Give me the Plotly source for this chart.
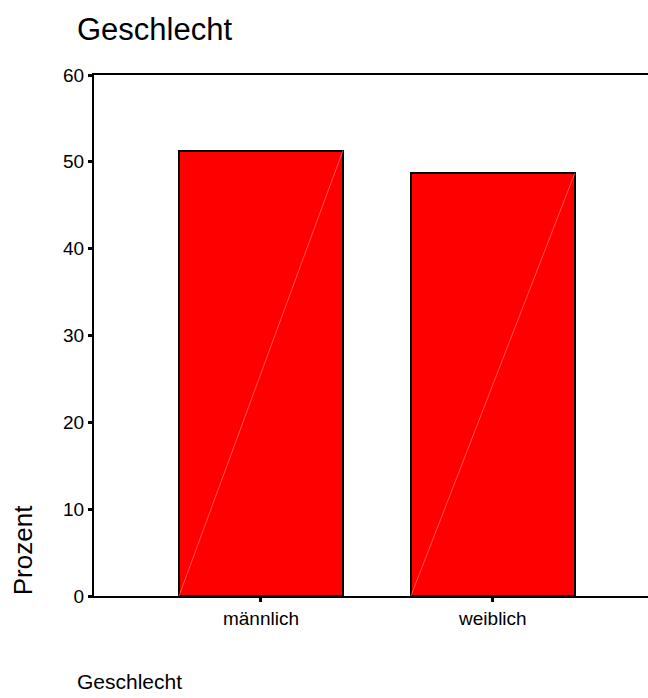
import plotly.graph_objects as go

# Häufigkeiten der Variable "Geschlecht" in Prozent
categories = ["männlich", "weiblich"]
percent = [51.3, 48.7]

y_ticks = [0, 10, 20, 30, 40, 50, 60]

BAR_WIDTH = 0.707
FONT = "Liberation Sans, Arial, sans-serif"

positions = list(range(len(categories)))

fig = go.Figure()
fig.add_trace(go.Bar(
    x=positions,
    y=percent,
    width=BAR_WIDTH,
    marker=dict(color="#ff0000", line=dict(color="#000000", width=2)),
    hoverinfo="skip",
))

# feine Diagonale innerhalb jedes Balkens
for pos, val in zip(positions, percent):
    fig.add_trace(go.Scatter(
        x=[pos - BAR_WIDTH / 2, pos + BAR_WIDTH / 2],
        y=[0, val],
        mode="lines",
        line=dict(color="rgba(255,140,140,0.6)", width=1),
        hoverinfo="skip",
        showlegend=False,
    ))

fig.update_layout(
    width=648,
    height=698,
    margin=dict(l=94, r=0, t=75, b=102),
    paper_bgcolor="white",
    plot_bgcolor="white",
    showlegend=False,
    bargap=0,
    font=dict(family=FONT, color="#000000"),
    xaxis=dict(
        range=[-0.72, 1.669],
        tickvals=positions,
        ticktext=categories,
        showline=True,
        linecolor="#000000",
        linewidth=2,
        mirror=True,
        ticks="outside",
        ticklen=4,
        tickwidth=3,
        tickcolor="#000000",
        showgrid=False,
        zeroline=False,
        tickfont=dict(size=19, family=FONT, color="#000000"),
    ),
    yaxis=dict(
        range=[0, 60],
        tickvals=y_ticks,
        showline=True,
        linecolor="#000000",
        linewidth=2,
        ticks="outside",
        ticklen=4,
        tickwidth=3,
        tickcolor="#000000",
        showgrid=False,
        zeroline=False,
        tickfont=dict(size=19, family=FONT, color="#000000"),
    ),
    annotations=[
        dict(text="Geschlecht", xref="paper", yref="paper",
             x=-0.035, y=1.088, xanchor="left", yanchor="middle",
             showarrow=False, font=dict(size=31, family=FONT, color="#000000")),
        dict(text="Geschlecht", xref="paper", yref="paper",
             x=-0.035, y=-0.165, xanchor="left", yanchor="middle",
             showarrow=False, font=dict(size=21, family=FONT, color="#000000")),
        dict(text="Prozent", xref="paper", yref="paper",
             x=-0.128, y=0.088, xanchor="center", yanchor="middle",
             textangle=-90, showarrow=False,
             font=dict(size=26, family=FONT, color="#000000")),
    ],
)

fig.write_html("out.html")
